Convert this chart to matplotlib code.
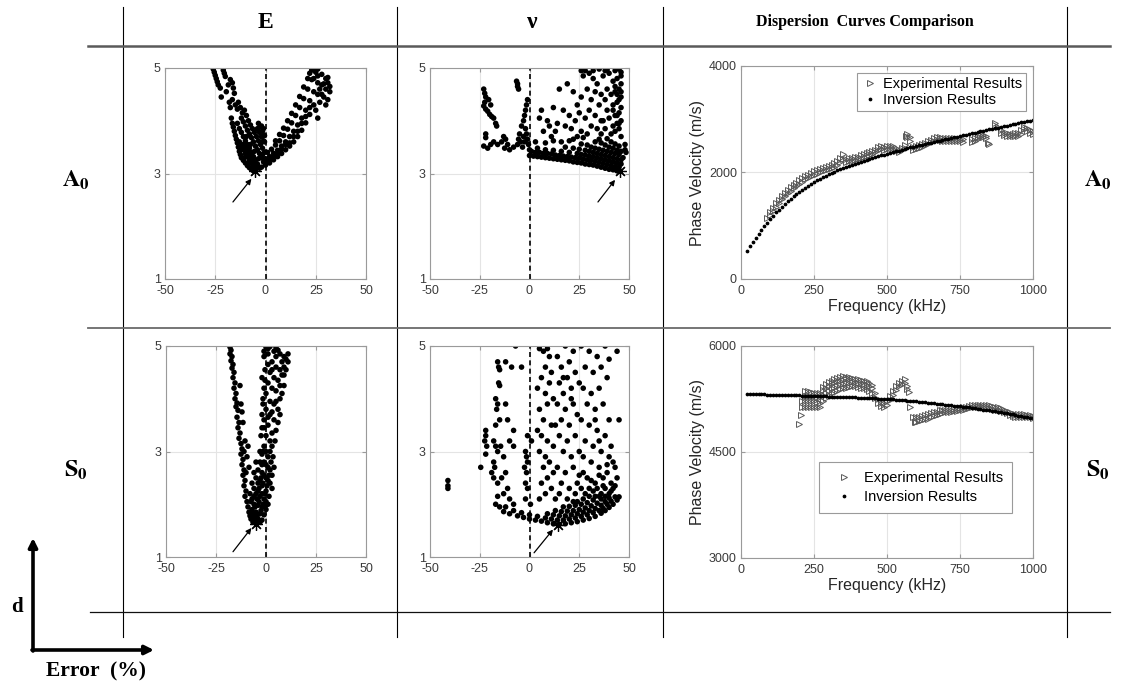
import matplotlib
matplotlib.use('Agg')
import matplotlib.pyplot as plt

plt.rcParams['font.family'] = ['Liberation Sans', 'DejaVu Sans']
plt.rcParams['mathtext.fontset'] = 'stix'
plt.rcParams['axes.unicode_minus'] = False

# ---------------- data ----------------
col_headers = ['E', 'ν', 'Dispersion  Curves Comparison']
row_labels = [r'$\mathbf{A_0}$', r'$\mathbf{S_0}$']
err_ticks = [-50, -25, 0, 25, 50]
d_ticks = [1, 3, 5]
freq_ticks = [0, 250, 500, 750, 1000]
a0_vel_ticks = [0, 2000, 4000]
s0_vel_ticks = [3000, 4500, 6000]
legend_labels = ['Experimental Results', 'Inversion Results']

# A0 - E error vs d
a0_E_pts = [
    (-26.0,4.98),(-25.5,4.92),(-25.0,4.86),(-24.5,4.80),(-24.0,4.74),(-23.5,4.68),(-22.5,4.62),(-21.0,4.96),
    (-20.5,4.90),(-20.0,4.84),(-22.0,4.45),(-19.5,4.55),(-18.5,4.68),(-17.5,4.78),(-16.5,4.72),(-16.0,4.62),
    (-15.5,4.52),(-18.0,4.35),(-17.5,4.25),(-16.5,4.40),(-15.0,4.30),(-14.0,4.22),(-13.5,4.35),(-12.5,4.25),
    (-11.5,4.15),(-10.5,4.20),
    (-17.0,4.05),(-16.5,3.95),(-16.0,3.88),(-15.5,3.80),(-15.0,3.72),(-14.5,3.65),(-14.0,3.58),(-13.5,3.50),
    (-13.0,3.42),(-12.5,3.36),(-12.0,3.30),(-11.0,3.25),(-10.0,3.20),(-9.0,3.15),(-8.0,3.11),(-7.0,3.08),(-6.0,3.05),
    (-14.0,3.95),(-13.0,3.85),(-12.0,3.78),(-11.0,3.70),(-10.0,3.62),(-9.0,3.55),(-8.0,3.48),(-7.0,3.40),
    (-6.0,3.32),(-5.0,3.25),(-4.0,3.18),
    (-12.0,4.05),(-11.0,3.98),(-10.0,3.90),(-9.0,3.82),(-8.0,3.75),(-7.0,3.68),(-6.0,3.60),(-5.0,3.52),
    (-4.0,3.45),(-3.0,3.38),(-2.0,3.30),(-1.0,3.22),
    (-9.5,4.10),(-8.5,4.00),(-7.5,3.92),(-6.5,3.85),(-5.5,3.78),(-4.5,3.70),(-3.5,3.62),(-2.5,3.55),
    (-1.5,3.48),(-0.5,3.40),
    (-13.0,3.60),(-12.0,3.52),(-11.0,3.45),(-10.0,3.38),(-9.0,3.32),(-8.0,3.26),(-7.0,3.20),(-6.0,3.14),(-5.0,3.10),
    (-11.0,3.55),(-10.0,3.48),(-9.0,3.42),(-8.0,3.36),(-7.0,3.30),(-6.0,3.24),(-5.0,3.18),(-4.0,3.12),(-3.0,3.10),
    (-4.0,3.85),(-3.0,3.78),(-2.0,3.70),(-1.0,3.62),(-2.5,3.88),(-1.5,3.80),(-0.5,3.72),(-3.5,3.95),
    (-12.5,3.45),(-10.5,3.30),(-8.5,3.20),(-6.5,3.12),(-9.5,3.70),(-7.5,3.55),(-5.5,3.42),(-3.5,3.28),
    (-2.0,3.90),(-1.0,3.85),(-0.5,3.60),(-1.5,3.35),
    (-2,3.12),(0,3.16),(2,3.20),(4,3.26),(6,3.32),(8,3.38),(10,3.45),(12,3.52),(14,3.60),(16,3.70),(18,3.82),
    (20,3.96),(22,4.12),(24,4.30),(26,4.50),(28,4.68),(30,4.80),(31,4.72),
    (0,3.28),(2,3.32),(4,3.38),(6,3.44),(8,3.52),(10,3.60),(12,3.70),(14,3.80),(16,3.92),(18,4.05),(20,4.20),
    (22,4.38),(24,4.55),(26,4.72),(28,4.88),
    (1,3.40),(3,3.46),(5,3.54),(7,3.62),(9,3.72),(11,3.84),(13,3.96),(15,4.10),(17,4.25),(19,4.42),(21,4.60),
    (23,4.78),(25,4.92),(24,5.0),(26,4.98),(22,4.90),
    (5,3.62),(7,3.74),(9,3.86),(11,4.00),(13,4.14),(15,4.30),(17,4.46),(19,4.64),(21,4.80),(23,4.96),
    (25,4.20),(27,4.35),(26,4.05),(28,4.50),(29,4.45),(30,4.60),(31,4.40),(32,4.65),(32,4.55),(30,4.30),
    (27,4.60),(29,4.70),(31,4.82),(24,4.80),(26,4.85),
    (12,3.58),(16,3.80),(20,4.08),(22,4.25),(18,3.95),(14,3.70),(10,3.55),(8,3.46),(6,3.38),(4,3.32),(2,3.26),(0,3.22),
]
a0_E_best = (-5.0, 3.05)
a0_E_arrow = ((-16.2, 2.46), (-7.0, 2.90))

# A0 - nu error vs d
a0_nu_pts = [
    (-23,4.60),(-22.5,4.52),(-22,4.45),(-22.5,4.35),(-23,4.28),(-22,4.22),(-21,4.18),(-20,4.12),(-19,4.08),
    (-18,4.05),(-20.5,4.40),(-19.5,4.30),(-17,3.95),(-16.5,3.90),
    (-22,3.75),(-22,3.68),(-23,3.52),(-21,3.48),(-19.5,3.55),(-18,3.60),(-16,3.55),(-14,3.60),(-13,3.70),
    (-12,3.65),(-11,3.55),(-12.5,3.48),(-10,3.45),(-8,3.50),
    (-6.5,4.75),(-6,4.70),(-6,4.65),(-5.5,4.60),
    (-6,3.55),(-5.5,3.65),(-5,3.75),(-4,3.90),(-4.5,3.60),(-3.5,3.50),(-3,4.00),(-2.5,4.10),(-2,4.20),
    (-1.5,4.30),(-1,4.40),(-2,3.85),(-1.5,3.75),(-1,3.65),(-0.5,3.55),(0,3.45),(-2.5,3.60),(-3,3.70),
    (0,3.34),(2,3.33),(4,3.32),(6,3.31),(8,3.30),(10,3.29),(12,3.28),(14,3.27),(16,3.26),(18,3.25),(20,3.24),
    (22,3.22),(24,3.21),(26,3.20),(28,3.18),(30,3.17),(32,3.16),(34,3.14),(36,3.12),(38,3.10),(40,3.08),
    (42,3.07),(44,3.05),
    (1,3.42),(3,3.40),(5,3.40),(7,3.38),(9,3.38),(11,3.37),(13,3.35),(15,3.34),(17,3.33),(19,3.32),(21,3.31),
    (23,3.30),(25,3.29),(27,3.27),(29,3.26),(31,3.25),(33,3.23),(35,3.21),(37,3.19),(39,3.17),(41,3.15),
    (43,3.13),(45,3.12),
    (4,3.48),(8,3.45),(12,3.44),(16,3.42),(20,3.40),(24,3.38),(26,3.36),(28,3.35),(30,3.33),(32,3.32),
    (34,3.30),(36,3.28),(38,3.26),(40,3.24),(42,3.22),(44,3.20),(46,3.18),
    (18,3.50),(22,3.48),(25,3.46),(28,3.44),(30,3.42),(32,3.40),(34,3.38),(36,3.36),(38,3.34),(40,3.32),
    (42,3.30),(44,3.28),(46,3.26),
    (26,3.56),(29,3.54),(31,3.50),(33,3.48),(35,3.46),(37,3.44),(39,3.42),(41,3.40),(43,3.38),(45,3.36),(47,3.30),
    (33,3.60),(36,3.58),(38,3.54),(40,3.50),(42,3.48),(44,3.44),(46,3.42),(35,3.65),(39,3.66),(41,3.60),
    (43,3.56),(45,3.52),
    (41,3.75),(43,3.80),(45,3.85),(46,3.70),(42,3.90),(44,3.95),(46,4.00),(40,4.05),(43,4.10),(45,4.15),
    (46,4.25),(42,4.30),(44,4.35),(46,4.45),(41,4.50),(43,4.55),(45,4.60),(46,4.70),(42,4.75),(44,4.80),
    (46,4.85),(40,4.90),(43,4.95),(45,4.98),(46,4.92),(39,4.97),(38,4.95),(37,4.85),(39,4.60),(38,4.40),
    (39,4.20),(37,4.00),(38,3.85),(36,3.75),(45,4.40),(44,4.10),(46,4.55),(45,3.95),(43,4.65),(44,4.50),(42,4.20),
    (28,4.95),(30,4.90),(27,4.85),(32,4.80),(34,4.70),(29,4.60),(33,4.55),(36,4.50),(26,4.45),(31,4.40),
    (35,4.30),(30,4.20),(33,4.10),(28,4.05),(36,4.00),(31,3.90),(34,3.85),(26,3.80),(29,3.75),(24,3.70),
    (22,3.65),(27,3.68),(20,3.62),(16,3.60),(12,3.62),(8,3.58),(23,4.00),(20,4.10),(17,4.20),(18,3.90),
    (14,3.95),(10,3.90),(9,4.00),(6,4.20),(12,4.25),(15,4.60),(19,4.70),(22,4.55),(24,4.30),(5,4.05),
    (7,3.80),(11,3.70),(3,3.60),(13,3.80),(25,4.15),(21,3.85),(32,4.95),(35,4.98),(26,4.95),
    (48,3.45),(48.5,3.40),(48,3.55),
]
a0_nu_best = (45.5, 3.05)
a0_nu_arrow = ((34.4, 2.46), (43.0, 2.88))

# S0 - E error vs d
s0_E_pts = [
    (-18,4.98),(-17.5,4.92),(-18,4.85),(-17,4.80),(-17.5,4.72),(-16.5,4.65),(-17,4.58),(-16,4.50),(-16.5,4.40),
    (-15.5,4.30),(-16,4.20),(-15,4.10),(-15.5,4.00),(-14.5,3.92),(-15,3.85),(-14,3.78),(-14.5,3.65),(-13.5,3.55),
    (-14,3.45),(-13,3.35),(-13.5,3.25),(-12.5,3.15),(-12,3.05),(-12.5,2.95),(-11.5,2.85),(-12,2.75),(-11,2.65),
    (-11.5,2.55),(-10.5,2.45),(-11,2.35),(-10,2.25),(-10.5,2.15),(-9.5,2.05),(-9,1.95),(-8.5,1.85),(-8,1.78),
    (-7.5,1.72),(-6.5,1.66),
    (-12.5,3.90),(-12,3.75),(-11.5,3.55),(-10.5,3.20),(-9.5,2.90),(-8.5,2.70),(-13,4.25),(-11,3.00),(-9,3.10),(-10,2.60),
    (0,4.98),(1,4.95),(2,4.99),(5,4.97),(6,4.92),(4,4.90),(7,4.85),(9,4.80),(11,4.85),(10,4.75),(11,4.70),
    (8,4.70),(9,4.60),(10,4.55),(7,4.55),(5,4.60),(3,4.70),(1,4.65),(-1,4.80),(-0.5,4.55),(2,4.50),(4,4.40),
    (6,4.35),(8,4.45),(9,4.25),(8,4.10),(7,4.00),(5,4.15),(3,4.20),(1,4.30),(0,4.10),(-1,4.20),(-1.5,4.00),
    (2,3.95),(4,3.90),(6,3.80),(7,3.70),(6,3.55),(5,3.40),(4,3.60),(2,3.70),(0,3.80),(-1,3.60),(-2,3.45),
    (-2.5,3.30),(1,3.50),(3,3.35),(4.5,3.20),(2,3.20),(0,3.30),(-1,3.10),(-3,3.00),(-2,2.95),(0,3.00),(2,3.00),
    (3.5,2.90),(4,2.70),(3,2.55),(1,2.70),(-1,2.80),(-3,2.80),(-4,2.65),(-2,2.60),(0,2.50),(2,2.40),(3,2.30),
    (-5,2.50),(-4,2.40),(-2,2.35),(0,2.25),(1.5,2.15),(-6,2.30),(-5,2.20),(-3,2.15),(-1,2.10),(1,2.00),
    (-7,2.10),(-6,2.00),(-4,1.98),(-2,1.95),(0,1.90),(-7,1.90),(-5,1.85),(-3,1.82),(-1,1.80),(-6,1.75),
    (-4,1.72),(-2,1.70),(-5,1.67),(-3,1.66),
    (-8,2.2),(-7,2.4),(-6,2.6),(-5,2.8),(-7.5,2.05),(-4.5,2.1),(-3.5,2.3),(-2.5,2.5),(-1.5,2.4),(-0.5,2.2),
    (0.5,2.35),(1.5,2.55),(-3.5,2.05),(-2.5,1.88),(-1.5,2.0),(-0.5,1.95),(-4.5,1.78),(-5.5,1.95),(-6.5,1.82),
    (2.5,2.8),(1,2.9),(-1.5,3.0),(3,3.1),(-2,3.7),(-1.5,3.9),(-2,4.4),(-1,4.9),
    (-3,2.45),(-1,2.55),(1,2.45),(-2,2.75),(0,2.75),(2,2.65),(-4,2.25),(-2,2.20),(0,2.05),(-6,2.15),
    (-1,3.45),(1,3.65),(3,3.75),(5,3.95),(7,4.25),(3,4.55),(5,4.80),(1,4.85),(-0.5,4.35),(9,4.45),
]
s0_E_best = (-5.0, 1.62)
s0_E_arrow = ((-16.5, 1.10), (-7.3, 1.55))

# S0 - nu error vs d
s0_nu_pts = [
    (-13,1.86),(-10,1.82),(-6,1.78),(-3,1.75),(0,1.72),(3,1.70),(6,1.68),(9,1.65),(12,1.63),(15,1.62),(18,1.63),
    (21,1.65),(24,1.67),(27,1.70),(30,1.73),(33,1.77),(36,1.83),(38,1.88),(40,1.94),(42,2.00),(44,2.08),(45,2.14),
    (-12,1.95),(-8,1.88),(-4,1.84),(0,1.80),(4,1.77),(8,1.74),(11,1.72),(14,1.70),(17,1.70),(20,1.72),(23,1.74),
    (26,1.77),(29,1.80),(32,1.84),(35,1.88),(37,1.92),(39,2.00),(41,2.06),(43,2.14),
    (9,1.82),(12,1.80),(15,1.78),(18,1.78),(21,1.80),(24,1.82),(27,1.85),(30,1.88),(33,1.92),(36,1.98),(38,2.05),(40,2.12),
    (13,1.88),(16,1.86),(19,1.87),(22,1.88),(25,1.90),(28,1.93),(31,1.97),(34,2.02),(36,2.10),
    (17,1.95),(20,1.96),(23,1.98),(26,2.00),(29,2.03),(32,2.08),(35,2.15),(22,2.05),(27,2.10),(30,2.15),
    (-22,3.4),(-22,3.3),(-22.5,3.2),(-21.5,3.1),(-22,2.95),(-24.5,2.7),
    (-16,4.7),(-15.5,4.6),(-15,4.55),(-15.5,4.3),(-15,4.25),(-17,4.0),(-16,3.9),(-16.5,3.8),(-17,3.5),(-15,3.6),
    (-18,3.2),(-17,3.1),(-16,3.0),(-14.5,3.1),(-18,2.8),(-17.5,2.7),(-19,2.6),(-18,2.5),(-16,2.4),(-14,2.5),
    (-16,2.15),(-17,2.0),(-15,1.95),(-12,3.9),(-11,3.6),(-10,3.2),(-8,3.4),(-13,2.9),(-12,2.6),(-11,2.3),
    (-13,2.2),(-10,2.1),(-8,2.0),
    (-12,4.7),(-9,4.6),(-7,5.0),(-4,4.6),(-8,3.1),
    (-2,3.0),(-1.5,2.9),(-1,2.8),(-1.5,2.6),(-2,2.4),(-1,2.3),(-2,2.1),(0.5,2.0),(-2.5,2.7),(1,3.2),(-1,3.3),
    (5,4.95),(7,4.9),(9,4.95),(10,4.8),(8,4.6),(11,4.5),(6,4.4),(4,4.2),(8,4.1),(10,4.3),(12,4.0),(5,3.8),
    (9,3.9),(7,3.6),(11,3.5),(4,3.4),(6,3.3),(9,3.2),(12,3.1),(5,3.0),(8,2.9),(10,2.8),(7,2.7),(12,2.6),
    (9,2.5),(6,2.4),(11,2.3),(8,2.2),(13,2.1),(5,2.1),
    (14,4.8),(18,5.0),(16,4.6),(20,4.7),(22,4.9),(15,4.3),(19,4.4),(23,4.5),(17,4.1),(21,4.2),(14,3.9),(18,3.8),
    (22,3.9),(16,3.6),(20,3.5),(24,3.7),(15,3.3),(19,3.2),(23,3.3),(17,3.0),(21,2.9),(25,3.0),(14,2.7),(18,2.6),
    (22,2.7),(16,2.4),(20,2.3),(24,2.4),(15,2.2),(19,2.1),(23,2.2),(13,3.5),(17,4.4),(21,4.0),(25,4.3),
    (26,5.0),(30,4.9),(34,4.8),(38,5.0),(44,4.9),(40,4.75),(28,4.6),(32,4.5),(36,4.6),(39,4.4),(27,4.2),
    (31,4.1),(35,4.2),(29,3.9),(33,3.8),(37,3.9),(40,3.6),(45,3.6),(26,3.6),(30,3.5),(34,3.4),(38,3.3),
    (28,3.2),(32,3.1),(36,3.0),(40,2.9),(42,2.8),(27,2.9),(31,2.8),(35,2.7),(39,2.6),(43,2.7),(29,2.5),
    (33,2.4),(37,2.5),(41,2.4),(44,2.5),(26,2.3),(30,2.3),(34,2.3),(38,2.3),(42,2.3),(28,2.2),(32,2.25),
    (36,2.2),(40,2.2),(27,2.6),(35,3.2),(41,3.1),(33,3.6),
    (24,2.05),(33,2.15),(38,2.15),(41,2.25),(43,2.35),(37,2.35),(31,2.45),(25,2.55),(35,2.55),(39,2.75),
    (-41,2.45),(-41,2.35),(-41,2.30),
]
s0_nu_best = (14.3, 1.61)
s0_nu_arrow = ((2.3, 1.08), (11.8, 1.52))

# A0 dispersion (frequency kHz, phase velocity m/s)
a0_inv_f = [20,30,40,50,60,70,80,90,100,110,120,130,140,150,160,170,180,190,200,210,220,230,240,250,260,270,
            280,290,300,310,320,330,340,350,360,370,380,390,400,410,420,430,440,450,460,470,480,490,500,510,
            520,530,540,550,560,570,580,590,600,610,620,630,640,650,660,670,680,690,700,710,720,730,740,750,
            760,770,780,790,800,810,820,830,840,850,860,870,880,890,900,910,920,930,940,950,960,970,980,990,1000]
a0_inv_v = [535,620,700,775,850,920,990,1060,1130,1190,1250,1305,1360,1410,1460,1505,1550,1595,1635,1675,
            1715,1750,1785,1820,1850,1880,1910,1940,1965,1990,2015,2040,2060,2085,2105,2125,2145,2165,2185,
            2205,2220,2240,2255,2275,2290,2305,2320,2335,2350,2365,2380,2395,2410,2425,2440,2455,2470,2485,
            2500,2512,2525,2538,2550,2563,2576,2588,2600,2613,2626,2638,2650,2663,2675,2688,2700,2712,2724,
            2736,2748,2760,2772,2784,2796,2808,2820,2832,2844,2856,2868,2880,2892,2904,2916,2928,2940,2952,
            2964,2976,2988]
a0_exp = [
    (90,1150),(100,1200),(100,1260),(110,1280),(110,1340),(120,1360),(120,1420),(130,1430),(130,1490),
    (140,1500),(140,1560),(150,1560),(150,1620),(160,1610),(160,1670),(170,1660),(170,1720),(180,1710),
    (180,1770),(190,1750),(190,1810),(200,1790),(200,1850),(210,1830),(210,1890),(220,1870),(220,1930),
    (230,1900),(230,1960),(240,1930),(240,1990),(250,1960),(250,2020),(260,1980),(260,2040),(270,2000),
    (270,2060),(280,2020),(280,2080),(290,2040),(290,2100),(300,2060),(300,2120),(310,2080),(310,2150),
    (320,2110),(320,2180),(330,2150),(330,2220),(340,2200),(340,2280),(350,2260),(350,2340),(360,2200),
    (360,2260),(370,2210),(370,2270),(380,2220),(380,2280),(390,2230),(390,2290),(400,2250),(400,2300),
    (410,2270),(410,2320),(420,2290),(420,2340),(430,2310),(430,2360),(440,2330),(440,2380),(450,2350),
    (450,2400),(460,2380),(460,2430),(470,2420),(470,2470),(480,2440),(480,2490),(490,2430),(490,2480),
    (500,2440),(500,2490),(510,2450),(510,2500),(520,2440),(520,2490),(530,2410),(530,2460),(540,2390),
    (540,2430),(550,2420),(550,2460),(560,2460),(560,2520),(565,2680),(570,2660),(570,2720),(580,2600),
    (580,2660),(590,2430),(590,2480),(600,2440),(600,2490),(610,2460),(610,2510),(620,2480),(620,2530),
    (630,2510),(630,2560),(640,2540),(640,2590),(650,2570),(650,2610),(660,2590),(660,2640),(670,2610),
    (670,2660),(680,2610),(680,2660),(690,2600),(690,2650),(700,2590),(700,2640),(710,2590),(710,2640),
    (720,2590),(720,2640),(730,2600),(730,2640),(740,2590),(740,2630),(750,2590),(750,2630),(760,2580),
    (760,2620),(790,2580),(790,2620),(800,2600),(800,2640),(810,2630),(810,2670),(820,2660),(820,2700),
    (830,2670),(830,2710),(840,2640),(840,2690),(845,2560),(850,2530),(870,2890),(870,2930),(880,2850),
    (890,2740),(890,2790),(900,2700),(900,2750),(910,2690),(910,2740),(920,2680),(920,2730),(930,2680),
    (930,2730),(940,2690),(940,2740),(950,2690),(950,2740),(960,2730),(960,2790),(970,2810),(970,2860),
    (980,2780),(980,2830),(990,2740),(990,2790),(1000,2720),(1000,2770),
]

# S0 dispersion
s0_inv_f = a0_inv_f
s0_inv_v = [5320,5319,5318,5317,5316,5315,5314,5313,5312,5311,5310,5308,5307,5306,5305,5304,5302,5301,5300,
            5299,5297,5296,5294,5293,5291,5290,5288,5287,5285,5284,5282,5281,5279,5278,5276,5275,5273,5272,
            5270,5268,5266,5264,5262,5260,5258,5256,5254,5252,5250,5247,5244,5240,5237,5233,5230,5226,5222,
            5218,5215,5211,5206,5202,5197,5193,5188,5184,5179,5175,5170,5165,5160,5155,5150,5145,5140,5135,
            5130,5125,5120,5114,5108,5101,5095,5088,5082,5075,5068,5062,5055,5048,5040,5032,5024,5016,5008,
            5000,4992,4983,4975]
s0_exp = [
    (200,4900),(205,5020),(210,5130),(210,5220),(220,5130),(220,5220),(220,5290),(220,5360),(230,5130),
    (230,5220),(230,5290),(230,5360),(240,5130),(240,5220),(240,5290),(240,5350),(250,5130),(250,5220),
    (250,5290),(250,5340),(260,5130),(260,5210),(260,5280),(260,5340),(270,5140),(270,5200),(270,5280),
    (270,5330),(280,5220),(280,5300),(280,5380),(280,5420),(290,5260),(290,5330),(290,5410),(290,5460),
    (300,5300),(300,5370),(300,5440),(300,5490),(310,5330),(310,5400),(310,5470),(310,5510),(320,5350),
    (320,5420),(320,5490),(320,5530),(330,5370),(330,5440),(330,5500),(330,5550),(340,5390),(340,5450),
    (340,5510),(340,5560),(350,5400),(350,5460),(350,5520),(350,5575),(360,5410),(360,5470),(360,5530),
    (360,5565),(370,5420),(370,5480),(370,5540),(370,5555),(380,5430),(380,5490),(380,5545),(390,5430),
    (390,5490),(390,5540),(400,5420),(400,5480),(400,5530),(410,5410),(410,5470),(410,5520),(420,5400),
    (420,5460),(420,5510),(430,5390),(430,5450),(430,5500),(440,5370),(440,5430),(440,5480),(450,5330),
    (450,5400),(450,5450),(460,5260),(460,5330),(470,5200),(470,5250),(480,5150),(480,5200),(490,5130),
    (490,5190),(500,5170),(500,5220),(510,5230),(510,5290),(520,5310),(520,5370),(530,5380),(530,5440),
    (540,5430),(540,5480),(550,5460),(550,5510),(560,5480),(560,5530),(570,5390),(570,5440),(575,5350),
    (580,5130),(590,4990),(595,4920),(600,4930),(600,4990),(610,4940),(610,5000),(620,4950),(620,5010),
    (630,4960),(630,5020),(640,4970),(640,5040),(650,4990),(650,5050),(660,5010),(660,5060),(670,5030),
    (670,5070),(680,5040),(680,5090),(690,5050),(690,5100),(700,5060),(700,5100),(710,5070),(710,5100),
    (720,5070),(720,5100),(730,5080),(730,5110),(740,5080),(740,5110),(750,5090),(750,5120),(760,5100),
    (760,5130),(770,5110),(770,5140),(780,5120),(780,5150),(790,5130),(790,5160),(800,5140),(800,5170),
    (810,5140),(810,5170),(820,5140),(820,5170),(830,5140),(830,5170),(840,5130),(840,5160),(850,5120),
    (850,5160),(860,5110),(860,5150),(870,5100),(870,5140),(880,5090),(880,5130),(890,5080),(890,5120),
    (900,5070),(900,5100),(910,5050),(910,5080),(920,5030),(920,5060),(930,5010),(930,5040),(940,5000),
    (940,5040),(950,5000),(950,5040),(960,5000),(960,5040),(970,5000),(970,5040),(980,5000),(980,5030),
    (990,4990),(990,5020),(1000,4980),(1000,5010),
]

# ---------------- figure ----------------
W, H = 1122, 687
fig = plt.figure(figsize=(W / 100, H / 100), dpi=100)


def rect(l, t, r, b):
    return [l / W, 1 - b / H, (r - l) / W, (b - t) / H]


ov = fig.add_axes([0, 0, 1, 1])
ov.set_xlim(0, W)
ov.set_ylim(H, 0)
ov.axis('off')

# table lines
for x in [123, 397, 663, 1067]:
    ov.plot([x, x], [7, 637], color='black', lw=0.8)
ov.plot([88, 1110], [46, 46], color='#5a5a5a', lw=1.8)
ov.plot([88, 1110], [328, 328], color='#6a6a6a', lw=1.3)
ov.plot([90, 1110], [612, 612], color='#111111', lw=0.9)

serif = ['Liberation Serif', 'DejaVu Serif']
ov.text(265, 22, col_headers[0], ha='center', va='center', family=serif, fontweight='bold', fontsize=17)
ov.text(532, 22, col_headers[1], ha='center', va='center', family=serif, fontweight='bold', fontsize=17)
ov.text(865, 22, col_headers[2], ha='center', va='center', family=serif, fontweight='bold', fontsize=11.5)
for y, lab in zip([180, 470], row_labels):
    ov.text(76, y, lab, ha='center', va='center', fontsize=17.5)
    ov.text(1098, y, lab, ha='center', va='center', fontsize=17.5)

ov.text(17, 607, 'd', ha='center', va='center', family=serif, fontweight='bold', fontsize=15)
ov.text(96, 671, 'Error  (%)', ha='center', va='center', family=serif, fontweight='bold', fontsize=15.5)
ov.annotate('', xy=(33, 538), xytext=(33, 651),
            arrowprops=dict(arrowstyle='-|>', color='black', lw=2.6, mutation_scale=13, shrinkA=0, shrinkB=0))
ov.annotate('', xy=(154, 650), xytext=(32, 650),
            arrowprops=dict(arrowstyle='-|>', color='black', lw=2.6, mutation_scale=13, shrinkA=0, shrinkB=0))

SPINE = '#9a9a9a'
LABC = '#3a3a3a'


def style(ax, labelsize):
    for s in ax.spines.values():
        s.set_color(SPINE)
        s.set_linewidth(0.8)
    ax.tick_params(direction='in', length=3, color=SPINE, labelcolor=LABC, labelsize=labelsize,
                   top=True, right=True)
    ax.tick_params(axis='x', pad=4.5)
    ax.tick_params(axis='y', pad=3)
    ax.grid(True, color='#e4e4e4', lw=0.8)
    ax.set_axisbelow(True)


def scatter_panel(r, pts, best, arrow):
    ax = fig.add_axes(rect(*r))
    xs, ys = zip(*pts)
    ax.axvline(0, color='black', lw=1.2, ls=(0, (3, 2)), zorder=1)
    ax.scatter(xs, ys, s=16, color='black', edgecolors='none', zorder=2)
    ax.plot([best[0]], [best[1]], marker=(8, 2, 0), ms=9, color='black', mew=0.9, zorder=3)
    ax.annotate('', xy=arrow[1], xytext=arrow[0],
                arrowprops=dict(arrowstyle='-|>', color='black', lw=0.9, mutation_scale=8,
                                shrinkA=0, shrinkB=0))
    ax.set_xlim(-50, 50)
    ax.set_ylim(1, 5)
    ax.set_xticks(err_ticks)
    ax.set_yticks(d_ticks)
    style(ax, 9)
    return ax


scatter_panel((165, 68, 366, 279), a0_E_pts, a0_E_best, a0_E_arrow)
scatter_panel((430, 68, 629, 279), a0_nu_pts, a0_nu_best, a0_nu_arrow)
scatter_panel((166, 346, 366, 557), s0_E_pts, s0_E_best, s0_E_arrow)
scatter_panel((430, 346, 629, 557), s0_nu_pts, s0_nu_best, s0_nu_arrow)


def disp_panel(r, exp_pts, inv_f, inv_v, ylim, yticks, legend_kw):
    ax = fig.add_axes(rect(*r))
    ef, ev = zip(*exp_pts)
    ax.plot(ef, ev, ls='none', marker='>', ms=4.5, mfc='none', mec='#5a5a5a', mew=0.7,
            label=legend_labels[0])
    ax.plot(inv_f, inv_v, ls='none', marker='o', ms=1.7, color='black', label=legend_labels[1])
    ax.set_xlim(0, 1000)
    ax.set_ylim(*ylim)
    ax.set_xticks(freq_ticks)
    ax.set_yticks(yticks)
    style(ax, 9)
    ax.set_xlabel('Frequency (kHz)', fontsize=11.5, color='#262626', labelpad=1)
    ax.set_ylabel('Phase Velocity (m/s)', fontsize=11.5, color='#262626', labelpad=3)
    kw = dict(fontsize=10.5, fancybox=False, edgecolor='#9a9a9a', framealpha=1,
              handletextpad=0.3, handlelength=1.2, borderaxespad=0.5)
    kw.update(legend_kw)
    leg = ax.legend(**kw)
    leg.get_frame().set_linewidth(0.8)
    return ax


disp_panel((741, 66, 1033, 279), a0_exp, a0_inv_f, a0_inv_v, (0, 4000), a0_vel_ticks,
           dict(loc='upper right', borderpad=0.25, labelspacing=0.15))
disp_panel((741, 346, 1033, 558), s0_exp, s0_inv_f, s0_inv_v, (3000, 6000), s0_vel_ticks,
           dict(loc='center', bbox_to_anchor=(0.598, 0.333), borderpad=0.6, labelspacing=0.35,
                handlelength=2.2))

fig.savefig('out.png', dpi=100)
